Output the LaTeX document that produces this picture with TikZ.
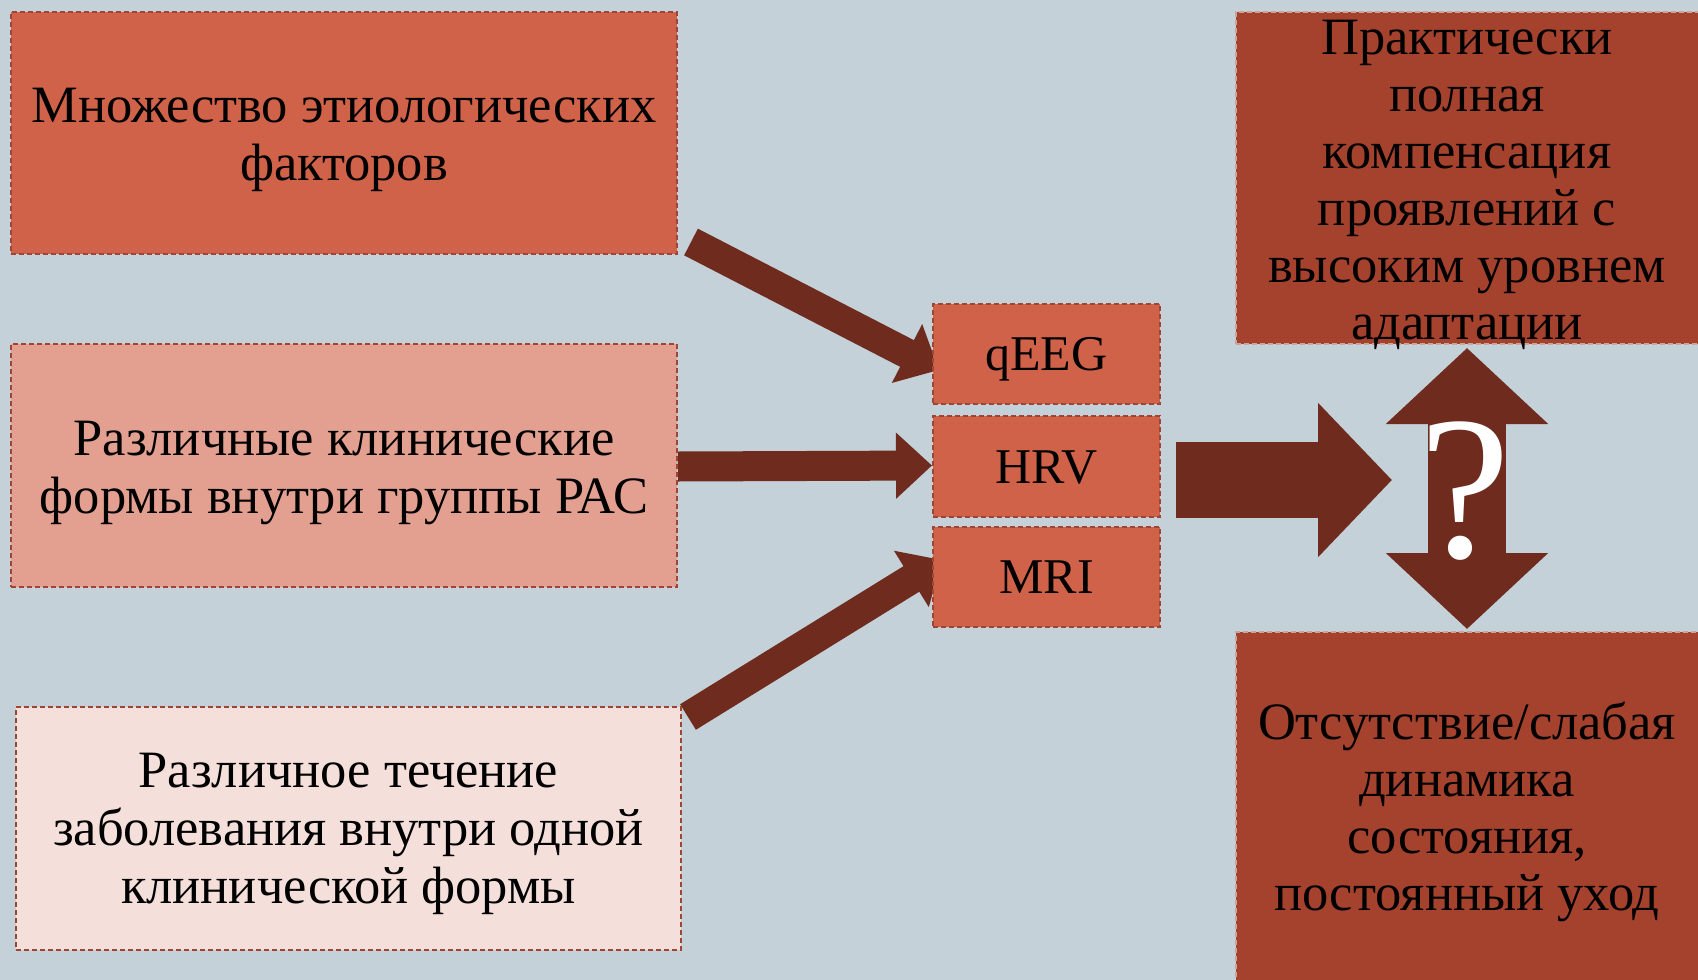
\documentclass[tikz,border=0pt]{standalone}
\usepackage{fontspec}
\setmainfont{Liberation Serif}
\usetikzlibrary{arrows.meta,backgrounds,calc}
\definecolor{bg}{HTML}{C5D1D8}
\definecolor{boxA}{HTML}{D0624A}
\definecolor{boxB}{HTML}{E3A090}
\definecolor{boxC}{HTML}{F5DFDB}
\definecolor{boxR}{HTML}{A5422D}
\definecolor{arr}{HTML}{6E2B1E}
\definecolor{edge}{HTML}{A04535}
\definecolor{edgeR}{HTML}{C9A69C}
\tikzset{
  box/.style={draw=edge, dash pattern=on 5pt off 3pt, line width=2pt, inner sep=0pt},
  rbox/.style={box, draw=edgeR, fill=boxR},
  txt/.style={align=center, inner sep=0pt, text=black, font=\fontsize{52.5}{58}\selectfont},
  rtxt/.style={txt, font=\fontsize{52.5}{57}\selectfont},
  small/.style={box, fill=boxA, minimum width=227pt, font=\fontsize{50}{58}\selectfont,
    text height=33pt, text depth=0pt},
  thinarrow/.style={draw=arr, line width=30pt, -{Triangle[length=36pt,width=64pt]}},
  bigarrow/.style={draw=arr, line width=76pt, -{Triangle[length=74pt,width=150pt]}},
  duoarrow/.style={draw=arr, line width=78pt,
    {Triangle[length=76pt,width=158pt]}-{Triangle[length=76pt,width=158pt]}}
}
\begin{document}
\begin{tikzpicture}[x=1pt,y=-1pt]
\useasboundingbox (0,0) rectangle (1698,980);
\begin{scope}
\clip (0,0) rectangle (1698,980);
\node[box, fill=boxA, minimum width=666pt, minimum height=242pt] (e1) at (344,133) {};
\node[txt] (t1) at ([yshift=-6.5pt]e1.center) {Множество этиологических\\факторов};
\node[box, fill=boxB, minimum width=666pt, minimum height=243pt] (e2) at (344,465.5) {};
\node[txt] (t2) at ([yshift=-7pt]e2.center) {Различные клинические\\формы внутри группы РАС};
\node[box, fill=boxC, minimum width=665pt, minimum height=243pt] (e3) at (348.5,828.5) {};
\node[txt] (t3) at ([yshift=-5.5pt]e3.center) {Различное течение\\заболевания внутри одной\\клинической формы};
\node[small, minimum height=100pt] (qeeg) at (1046.5,354) {qEEG};
\node[small, minimum height=101pt] (hrv) at (1046.5,466.5) {HRV};
\node[small, minimum height=100pt] (mri) at (1046.5,577) {MRI};
\node[rbox, minimum width=466pt, minimum height=332pt] (top) at (1469,178) {};
\node[rtxt] (t4) at ([xshift=-2pt,yshift=-7pt]top.center)
  {Практически\\полная\\компенсация\\проявлений с\\высоким уровнем\\адаптации};
\node[rbox, minimum width=466pt, minimum height=352pt] (bot) at (1469,808) {};
\node[rtxt] (t5) at ([xshift=-2pt,yshift=-4pt]bot.center)
  {Отсутствие/слабая\\динамика\\состояния,\\постоянный уход};
\end{scope}
\coordinate (res) at (1392,480);
\begin{pgfonlayer}{background}
\fill[bg] (0,0) rectangle (1698,980);
\draw[thinarrow] ([xshift=13pt,yshift=13pt]e1.south east) -- ([xshift=7pt,yshift=-16pt]qeeg.west);
\draw[thinarrow] ([yshift=-1pt]e2.east) -- ([yshift=1pt]hrv.west);
\draw[thinarrow] ([xshift=6pt,yshift=-11pt]e3.north east) -- ([xshift=10pt,yshift=17pt]mri.west);
\draw[bigarrow] ([xshift=15pt,yshift=-13.5pt]hrv.east) -- (res);
\draw[duoarrow] ([xshift=-2pt,yshift=-3pt]top.south) -- ([xshift=-2pt,yshift=2pt]bot.north);
\end{pgfonlayer}
\node[text=white, inner sep=0pt, font=\fontsize{205}{205}\selectfont] (q) at (1465,491) {?};
\end{tikzpicture}
\end{document}
